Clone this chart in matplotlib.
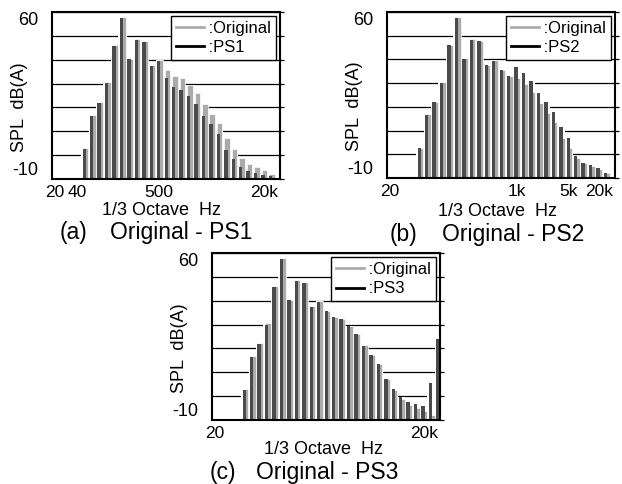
import numpy as np
import matplotlib.pyplot as plt
from matplotlib.lines import Line2D

plt.rcParams['font.family'] = ['Liberation Sans', 'DejaVu Sans']

# 1/3 octave band centres (Hz), 20 Hz .. 20 kHz
bands = ['20', '25', '31.5', '40', '50', '63', '80', '100', '125', '160',
         '200', '250', '315', '400', '500', '630', '800', '1k', '1.25k', '1.6k',
         '2k', '2.5k', '3.15k', '4k', '5k', '6.3k', '8k', '10k', '12.5k', '16k', '20k']
first_band = '50'

# SPL dB(A), starting at the 50 Hz band
original = [2.8, 16.8, 22.2, 30.5, 46.2, 57.8, 40.5, 48.7, 47.9, 37.8, 39.8,
            35.7, 33.2, 32.2, 29.6, 26.2, 21.6, 17.4, 13.6, 7.0, 2.6,
            -1.4, -3.7, -5.0, -6.3, -7.9]
ps1 = [2.5, 16.5, 22.0, 30.2, 45.9, 57.5, 40.2, 48.4, 47.6, 37.5, 39.5,
       32.5, 28.5, 27.5, 24.7, 21.3, 16.5, 13.0, 8.7, 2.1, -1.8,
       -4.9, -6.6, -7.4, -8.2, -8.8]
ps2 = [2.5, 16.5, 21.9, 30.2, 45.9, 57.5, 40.2, 48.4, 47.6, 37.5, 39.5,
       35.4, 32.9, 36.8, 34.3, 30.9, 25.9, 22.1, 18.0, 11.6, 7.0,
       -0.7, -3.8, -4.5, -5.9, -7.7]
ps3 = [2.5, 16.5, 21.8, 30.0, 45.9, 57.6, 40.3, 48.4, 47.6, 37.5, 39.6,
       35.6, 33.0, 32.3, 29.5, 26.2, 21.0, 17.2, 13.6, 7.0, 2.8,
       -0.3, -2.4, -3.1, -4.2, 5.3, 23.8]

ticks_a = ['20', '40', '500', '20k']
ticks_b = ['20', '1k', '5k', '20k']
ticks_c = ['20', '20k']

light = '#ababab'
dark = '#4a4a4a'
W, H = 622, 484


def draw_panel(rect, ps, name, ticks, fig):
    ax = fig.add_axes(rect)
    x0 = bands.index(first_band)
    lo = -10
    orig = np.array(original)
    ps = np.array(ps)
    xo = np.arange(len(orig)) + x0
    xp = np.arange(len(ps)) + x0

    # white backing so the grid is hidden inside the bar cluster
    top = ps.copy()
    top[:len(orig)] = np.maximum(top[:len(orig)], orig)
    ax.bar(xp, top - lo, bottom=lo, width=1.0, color='white', linewidth=0, zorder=1.5)

    ax.bar(xo + 0.1, orig - lo, bottom=lo, width=0.74,
           color=light, edgecolor='white', linewidth=0.5, zorder=2)
    ax.bar(xp - 0.07, ps - lo, bottom=lo, width=0.46,
           color=dark, linewidth=0, zorder=3)

    ax.set_xlim(-0.4, 30.2)
    ax.set_ylim(-10, 60)
    ax.set_yticks(range(-10, 61, 10))
    ax.set_yticklabels(['-10', '', '', '', '', '', '', '60'])
    ax.yaxis.grid(True, color='black', linewidth=0.9)
    ax.set_axisbelow(True)
    ax.tick_params(axis='y', left=False, right=True, direction='out',
                   length=3, width=0.9, labelsize=13, pad=7)
    ylabs = ax.get_yticklabels()
    ylabs[0].set_va('bottom')
    ylabs[-1].set_va('top')

    pos = [bands.index(t) for t in ticks]
    ax.set_xticks(pos)
    ax.set_xticklabels(ticks)
    ax.tick_params(axis='x', length=0, labelsize=12.5, pad=4)
    ax.get_xticklabels()[-1].set_ha('right')

    for s in ax.spines.values():
        s.set_linewidth(1.5)
        s.set_zorder(4)

    ax.set_ylabel('SPL  dB(A)', fontsize=13)
    ax.yaxis.set_label_coords(-0.105, 0.43)

    handles = [Line2D([], [], color=light, lw=2), Line2D([], [], color='black', lw=2)]
    leg = ax.legend(handles, [' :Original', ' :' + name], loc='upper right',
                    fontsize=12, frameon=True, fancybox=False, framealpha=1,
                    edgecolor='black', borderaxespad=0.25, handlelength=1.7,
                    handletextpad=0.0, borderpad=0.3, labelspacing=0.25)
    leg.get_frame().set_linewidth(1.0)
    leg.set_zorder(5)
    return ax


fig = plt.figure(figsize=(W / 100, H / 100), dpi=100)


def rect(l, r, t, b):
    return [l / W, 1 - b / H, (r - l) / W, (b - t) / H]


ax_a = draw_panel(rect(52, 280, 12, 179), ps1, 'PS1', ticks_a, fig)
ax_b = draw_panel(rect(387, 615, 12, 178), ps2, 'PS2', ticks_b, fig)
ax_c = draw_panel(rect(212, 440, 253, 420), ps3, 'PS3', ticks_c, fig)

# axis titles and captions
for cx, cy in [(162, 211), (498, 212), (323, 450)]:
    fig.text(cx / W, 1 - cy / H, '1/3 Octave  Hz', fontsize=13, ha='center', va='center')

caps = [('(a)', 60, 'Original - PS1', 110, 233),
        ('(b)', 390, 'Original - PS2', 442, 234),
        ('(c)', 210, 'Original - PS3', 256, 472)]
for tag, tx, txt, ox, cy in caps:
    fig.text(tx / W, 1 - cy / H, tag, fontsize=16.5, ha='left', va='center')
    fig.text(ox / W, 1 - cy / H, txt, fontsize=16.5, ha='left', va='center')

fig.savefig('out.png', dpi=100)
